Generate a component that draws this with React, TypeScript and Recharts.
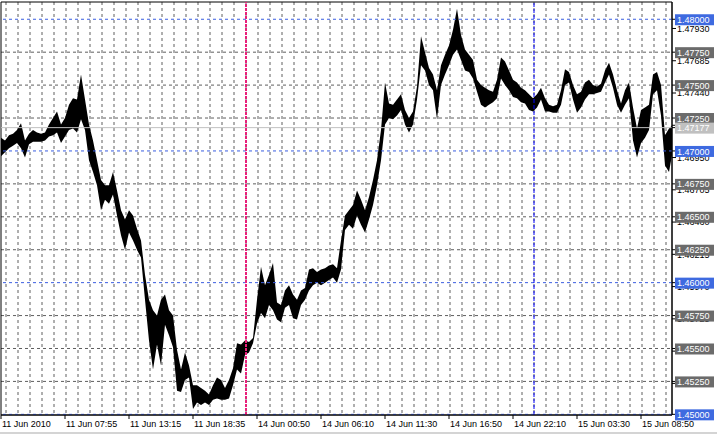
import {
  Area,
  CartesianGrid,
  ComposedChart,
  ReferenceArea,
  ReferenceLine,
  XAxis,
  YAxis,
} from "recharts";

// EURUSD M5, one sample every 4 bars (20 min): high / low of the bars around it
const highs = [
  1.471, 1.4708, 1.4712, 1.4713, 1.4716, 1.4721, 1.4708, 1.4713, 1.4716, 1.4714, 1.4713, 1.4714,
  1.472, 1.4725, 1.473, 1.472, 1.4725, 1.4735, 1.474, 1.4739, 1.4758, 1.4739, 1.472, 1.4708,
  1.4693, 1.4678, 1.4674, 1.4674, 1.4684, 1.467, 1.4655, 1.4648, 1.4655, 1.4651, 1.4641, 1.4632,
  1.4606, 1.4587, 1.4579, 1.4575, 1.4587, 1.4591, 1.4579, 1.4575, 1.4549, 1.4534, 1.4547, 1.4537,
  1.4522, 1.4522, 1.452, 1.4518, 1.4515, 1.4522, 1.4528, 1.4526, 1.452, 1.4526, 1.4535, 1.4554,
  1.4553, 1.4556, 1.4555, 1.4558, 1.4587, 1.4612, 1.4598, 1.4606, 1.4615, 1.4585, 1.4583, 1.4594,
  1.4598, 1.4591, 1.4587, 1.4594, 1.4596, 1.461, 1.4611, 1.4608, 1.461, 1.4611, 1.4613, 1.4614,
  1.4611, 1.4632, 1.4651, 1.4655, 1.4659, 1.467, 1.4663, 1.4655, 1.4665, 1.4678, 1.4693, 1.4716,
  1.4752, 1.4736, 1.4735, 1.4739, 1.4743, 1.4731, 1.4725, 1.473, 1.4749, 1.4787, 1.4775, 1.4763,
  1.4758, 1.4746, 1.4765, 1.4773, 1.478, 1.4792, 1.4808, 1.4788, 1.4777, 1.4773, 1.4769, 1.4754,
  1.475, 1.4748, 1.4746, 1.4745, 1.4754, 1.4771, 1.4768, 1.4761, 1.4754, 1.4752, 1.4748, 1.4746,
  1.4743, 1.474, 1.4743, 1.4748, 1.474, 1.4735, 1.4734, 1.4735, 1.4746, 1.4762, 1.476, 1.475,
  1.4743, 1.4745, 1.4752, 1.4754, 1.475, 1.4749, 1.4751, 1.4761, 1.4767, 1.4758, 1.4746, 1.4736,
  1.4746, 1.4752, 1.4733, 1.4717, 1.4731, 1.4733, 1.4735, 1.4758, 1.476, 1.475, 1.4712, 1.4717,
  1.472,
];

const lows = [
  1.4696, 1.4699, 1.4702, 1.4704, 1.4706, 1.4702, 1.4695, 1.4705, 1.4707, 1.4707, 1.4707, 1.4708,
  1.4711, 1.4712, 1.4714, 1.4706, 1.4711, 1.4716, 1.4717, 1.4714, 1.4724, 1.4716, 1.4693, 1.4684,
  1.4674, 1.4655, 1.4663, 1.466, 1.4667, 1.4651, 1.4636, 1.4625, 1.4638, 1.4632, 1.4625, 1.4619,
  1.4587, 1.4556, 1.4534, 1.4553, 1.4537, 1.4568, 1.456, 1.4551, 1.4518, 1.4517, 1.4526, 1.4528,
  1.4504, 1.4509, 1.4507, 1.4509, 1.4507, 1.4511, 1.4512, 1.4511, 1.4511, 1.4512, 1.4522, 1.4534,
  1.4531, 1.4545, 1.4547, 1.4554, 1.4569, 1.4577, 1.4573, 1.4583, 1.4579, 1.4572, 1.457, 1.4581,
  1.4583, 1.4573, 1.4572, 1.4583, 1.4587, 1.4594, 1.4598, 1.46, 1.4598, 1.46, 1.4602, 1.4604,
  1.46, 1.461, 1.464, 1.4644, 1.4641, 1.4651, 1.4644, 1.4638, 1.4648, 1.4659, 1.4674, 1.4693,
  1.472, 1.4725, 1.4724, 1.4727, 1.4731, 1.472, 1.4714, 1.472, 1.4739, 1.4765, 1.4761, 1.475,
  1.4746, 1.4724, 1.475, 1.4758, 1.4765, 1.4773, 1.4777, 1.4769, 1.4761, 1.476, 1.4755, 1.4745,
  1.4735, 1.4733, 1.4735, 1.4737, 1.474, 1.4755, 1.475, 1.4746, 1.4741, 1.474, 1.4737, 1.4736,
  1.4731, 1.473, 1.4733, 1.4739, 1.473, 1.473, 1.4729, 1.4729, 1.4735, 1.475, 1.4752, 1.4739,
  1.4729, 1.4733, 1.4739, 1.4743, 1.4743, 1.4744, 1.4745, 1.4752, 1.4758, 1.4748, 1.4735, 1.4729,
  1.4735, 1.474, 1.4708, 1.4695, 1.4706, 1.471, 1.4716, 1.4743, 1.4746, 1.4727, 1.4689, 1.4684,
  1.4701,
];
const SAMPLE_STEP = 4;

const timeTickBars = [0, 64, 128, 192, 256, 320, 384, 448, 512, 576, 640];
const timeLabels = [
  "11 Jun 2010",
  "11 Jun 07:55",
  "11 Jun 13:15",
  "11 Jun 18:35",
  "14 Jun 00:50",
  "14 Jun 06:10",
  "14 Jun 11:30",
  "14 Jun 16:50",
  "14 Jun 22:10",
  "15 Jun 03:30",
  "15 Jun 08:50",
];

// terminal's own price scale
const scaleLevels = [
  1.4793, 1.47685, 1.4744, 1.47195, 1.4695, 1.46705, 1.4646, 1.46215, 1.4597, 1.45725, 1.4548,
  1.45235,
];
const gridLevels = [1.4525, 1.455, 1.4575, 1.4625, 1.465, 1.4675, 1.4725, 1.475, 1.4775];
const lineLevels = [1.45, 1.46, 1.47, 1.48];
const bidPrice = 1.47177;
const weekStartBar = 245;
const dayStartBar = 533;

const yMin = 1.44995;
const yMax = 1.48131;
const xMax = 671;

const hourBars = Array.from({ length: 56 }, (_, k) => 5 + 12 * k);

const rows = highs.map((h, i) => ({ bar: i * SAMPLE_STEP, range: [lows[i], h] }));

const FONT = "'Liberation Sans', Arial, sans-serif";

const TimeTick = (props: any) => {
  const { x, y, payload } = props;
  const label = timeLabels[timeTickBars.indexOf(payload.value)];
  return (
    <text x={x + 1} y={y} dy="0.71em" textAnchor="start" fontSize={9} fontFamily={FONT} fill="#000">
      {label}
    </text>
  );
};

const PriceTick = (props: any) => {
  const { x, y, payload } = props;
  const v = payload.value as number;
  const text = v.toFixed(5);
  let box: string | null = null;
  if (lineLevels.includes(v)) box = "#3e6ae0";
  else if (gridLevels.includes(v)) box = "#6b6b6b";
  else if (v === bidPrice) box = "#c0c0c0";
  if (!box) {
    return (
      <text x={x} y={y} dy="0.36em" textAnchor="start" fontSize={9} fontFamily={FONT} fill="#000">
        {text}
      </text>
    );
  }
  return (
    <g>
      <rect x={x - 2} y={y - 5} width={39} height={11} fill={box} />
      <text x={x} y={y} dy="0.4em" textAnchor="start" fontSize={9} fontFamily={FONT} fill="#fff">
        {text}
      </text>
    </g>
  );
};

const App = () => {
  return (
    <div style={{ position: "relative", width: 717, height: 434, background: "#fff" }}>
      <style>{"body{margin:0}"}</style>
      <ComposedChart
        width={717}
        height={434}
        data={rows}
        margin={{ top: 2, right: 0, bottom: 0, left: 1 }}
      >
        <CartesianGrid
          stroke="#5e5e5e"
          strokeDasharray="3 3"
          horizontalValues={gridLevels}
          verticalValues={hourBars}
        />
        <XAxis
          type="number"
          dataKey="bar"
          domain={[0, xMax]}
          allowDataOverflow
          ticks={timeTickBars}
          interval={0}
          height={19}
          tickSize={4}
          tickMargin={2}
          axisLine={{ stroke: "#000" }}
          tickLine={{ stroke: "#000" }}
          tick={<TimeTick />}
        />
        <YAxis
          orientation="right"
          type="number"
          domain={[yMin, yMax]}
          allowDataOverflow
          ticks={[...scaleLevels, ...gridLevels, ...lineLevels, bidPrice]}
          interval={0}
          width={45}
          tickSize={4}
          tickMargin={1}
          axisLine={{ stroke: "#000" }}
          tickLine={{ stroke: "#000" }}
          tick={<PriceTick />}
        />
        <ReferenceLine y={bidPrice} stroke="#c0c0c0" />
        {lineLevels.map((v) => (
          <ReferenceLine key={v} y={v} stroke="#3a5de0" strokeDasharray="3 3" />
        ))}
        <ReferenceLine x={weekStartBar} stroke="#e8207a" strokeWidth={2} strokeDasharray="3 1" />
        <ReferenceLine x={dayStartBar} stroke="#0000ff" strokeDasharray="4 2" />
        <Area
          type="linear"
          dataKey="range"
          stroke="none"
          fill="#000"
          fillOpacity={1}
          dot={false}
          activeDot={false}
          isAnimationActive={false}
        />
        <ReferenceArea
          x1={0}
          x2={xMax}
          y1={yMin}
          y2={yMax}
          fill="none"
          fillOpacity={0}
          stroke="#000"
          ifOverflow="visible"
        />
      </ComposedChart>
      <div
        style={{ position: "absolute", left: 0, top: 432, width: 717, height: 2, background: "#d4d4d4" }}
      />
    </div>
  );
};

export default App;
